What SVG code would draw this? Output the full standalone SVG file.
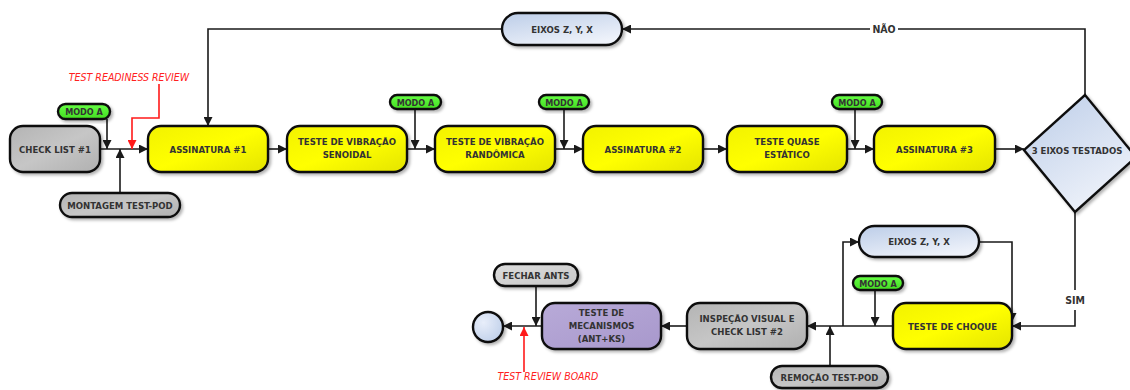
<svg xmlns="http://www.w3.org/2000/svg" width="1130" height="390" viewBox="0 0 1130 390">
<defs>
<linearGradient id="gY" x1="0" y1="0" x2="1" y2="1"><stop offset="0" stop-color="#f2f200"/><stop offset="0.5" stop-color="#ffff00"/><stop offset="1" stop-color="#e4e400"/></linearGradient>
<linearGradient id="gG" x1="0" y1="0" x2="1" y2="1"><stop offset="0" stop-color="#b4b4b4"/><stop offset="0.5" stop-color="#c6c6c6"/><stop offset="1" stop-color="#b0b0b0"/></linearGradient>
<linearGradient id="gL" x1="0" y1="0" x2="1" y2="1"><stop offset="0" stop-color="#dcdcdc"/><stop offset="1" stop-color="#c8c8c8"/></linearGradient>
<linearGradient id="gB" x1="0" y1="0" x2="0.6" y2="1"><stop offset="0" stop-color="#bccde8"/><stop offset="1" stop-color="#eef2fa"/></linearGradient>
<linearGradient id="gP" x1="0" y1="0" x2="1" y2="1"><stop offset="0" stop-color="#b8aad8"/><stop offset="1" stop-color="#a898cc"/></linearGradient>
<linearGradient id="gM" x1="0" y1="0" x2="0" y2="1"><stop offset="0" stop-color="#66ff44"/><stop offset="1" stop-color="#44dd22"/></linearGradient>
<radialGradient id="gC" cx="0.35" cy="0.35" r="0.8"><stop offset="0" stop-color="#e8eefa"/><stop offset="1" stop-color="#bccde8"/></radialGradient>
<filter id="sh" x="-10%" y="-10%" width="130%" height="140%"><feDropShadow dx="2" dy="2" stdDeviation="1.5" flood-color="#000" flood-opacity="0.3"/></filter>
<marker id="a" viewBox="0 0 10 10" refX="10" refY="5" markerWidth="9" markerHeight="9" markerUnits="userSpaceOnUse" orient="auto"><path d="M0,0 L10,5 L0,10 z" fill="#1a1a1a"/></marker>
<marker id="ar" viewBox="0 0 10 10" refX="10" refY="5" markerWidth="9" markerHeight="9" markerUnits="userSpaceOnUse" orient="auto"><path d="M0,0 L10,5 L0,10 z" fill="#ff1a1a"/></marker>
<style>
.n{stroke:#111;stroke-width:2.4;filter:url(#sh)}
.y{fill:url(#gY)}.g{fill:url(#gG)}.l{fill:url(#gL)}.b{fill:url(#gB)}.p{fill:url(#gP)}.m{fill:url(#gM)}
text{font-family:"DejaVu Sans Condensed","DejaVu Sans",sans-serif;font-weight:bold;font-size:9.5px;fill:#333;text-anchor:middle}
.s{font-size:9px}
.r{font-style:italic;font-weight:normal;fill:#ff2020;font-size:10.5px}
.c path{fill:none;stroke:#1a1a1a;stroke-width:1.6}
.c path.rd{stroke:#ff1a1a}
.lb{font-size:10.5px}
</style>
</defs>
<g class="c" id="connectors">
<path d="M100,149 H148" marker-end="url(#a)"/>
<path d="M107,119 V149" marker-end="url(#a)"/>
<path d="M120,193 V149" marker-end="url(#a)"/>
<path class="rd" d="M159,84 V118 H132 V149" marker-end="url(#ar)"/>
<path d="M1085,95 V29 H898"/>
<path d="M870,29 H622" marker-end="url(#a)"/>
<path d="M502,29 H208 V126" marker-end="url(#a)"/>
<path d="M268,149 H287" marker-end="url(#a)"/>
<path d="M407,149 H435" marker-end="url(#a)"/>
<path d="M415,109 V149" marker-end="url(#a)"/>
<path d="M555,149 H583" marker-end="url(#a)"/>
<path d="M564,109 V149" marker-end="url(#a)"/>
<path d="M703,149 H727" marker-end="url(#a)"/>
<path d="M847,149 H874" marker-end="url(#a)"/>
<path d="M855,109 V149" marker-end="url(#a)"/>
<path d="M995,149 H1024" marker-end="url(#a)"/>
<path d="M1075,212 V290"/>
<path d="M1075,310 V326 H1012" marker-end="url(#a)"/>
<path d="M979,242 H1012 V322" marker-end="url(#a)"/>
<path d="M893,326 H807" marker-end="url(#a)"/>
<path d="M843,326 V242 H859" marker-end="url(#a)"/>
<path d="M875,290 V326" marker-end="url(#a)"/>
<path d="M830,366 V326" marker-end="url(#a)"/>
<path d="M687,326 H661" marker-end="url(#a)"/>
<path d="M542,326 H503" marker-end="url(#a)"/>
<path d="M536,286 V326" marker-end="url(#a)"/>
<path class="rd" d="M524,372 V327" marker-end="url(#ar)"/>
<text x="884" y="33" class="lb">NÃO</text>
<text x="1075" y="304" class="lb">SIM</text>
</g>
<g id="checklist1"><rect class="n g" x="10" y="126" width="90" height="46" rx="13"/><text x="55" y="153">CHECK LIST #1</text></g>
<g id="modoa1"><rect class="n m" x="58" y="104" width="52" height="15" rx="7.5"/><text class="s" x="84" y="115">MODO A</text></g>
<g id="montagem"><rect class="n g" x="60" y="193" width="120" height="24" rx="12"/><text x="120" y="208.5">MONTAGEM TEST-POD</text></g>
<text class="r" x="129" y="81">TEST READINESS REVIEW</text>
<g id="eixos1"><rect class="n b" x="502" y="13" width="120" height="32" rx="16"/><text x="562" y="32.5">EIXOS Z, Y, X</text></g>
<g id="assinatura1"><rect class="n y" x="148" y="126" width="120" height="46" rx="13"/><text x="208" y="152.5">ASSINATURA #1</text></g>
<g id="senoidal"><rect class="n y" x="287" y="126" width="120" height="46" rx="13"/><text x="347" y="145">TESTE DE VIBRAÇÃO</text><text x="347" y="158">SENOIDAL</text></g>
<g id="modoa2"><rect class="n m" x="390" y="95" width="51" height="14" rx="7"/><text class="s" x="415.5" y="105.5">MODO A</text></g>
<g id="randomica"><rect class="n y" x="435" y="126" width="120" height="46" rx="13"/><text x="495" y="145">TESTE DE VIBRAÇÃO</text><text x="495" y="158">RANDÔMICA</text></g>
<g id="modoa3"><rect class="n m" x="539" y="95" width="50" height="14" rx="7"/><text class="s" x="564" y="105.5">MODO A</text></g>
<g id="assinatura2"><rect class="n y" x="583" y="126" width="120" height="46" rx="13"/><text x="643" y="152.5">ASSINATURA #2</text></g>
<g id="quase"><rect class="n y" x="727" y="126" width="120" height="46" rx="13"/><text x="787" y="145">TESTE QUASE</text><text x="787" y="158">ESTÁTICO</text></g>
<g id="modoa4"><rect class="n m" x="832" y="95" width="50" height="14" rx="7"/><text class="s" x="857" y="105.5">MODO A</text></g>
<g id="assinatura3"><rect class="n y" x="874" y="126" width="121" height="46" rx="13"/><text x="934.5" y="152.5">ASSINATURA #3</text></g>
<g id="decisao"><polygon class="n b" points="1085,95 1136,157 1075,212 1024,150"/><text x="1077" y="154">3 EIXOS TESTADOS</text></g>
<g id="eixos2"><rect class="n b" x="859" y="226" width="120" height="31" rx="15.5"/><text x="919" y="245">EIXOS Z, Y, X</text></g>
<g id="modoa5"><rect class="n m" x="853" y="276" width="50" height="14" rx="7"/><text class="s" x="878" y="286.5">MODO A</text></g>
<g id="choque"><rect class="n y" x="893" y="303" width="119" height="46" rx="13"/><text x="952.5" y="330">TESTE DE CHOQUE</text></g>
<g id="inspecao"><rect class="n g" x="687" y="303" width="120" height="46" rx="13"/><text x="747" y="322">INSPEÇÃO VISUAL E</text><text x="747" y="335">CHECK LIST #2</text></g>
<g id="remocao"><rect class="n g" x="771" y="366" width="117" height="22" rx="11"/><text x="829.5" y="380.5">REMOÇÃO TEST-POD</text></g>
<g id="mecanismos"><rect class="n p" x="542" y="303" width="119" height="46" rx="13"/><text x="601.5" y="316">TESTE DE</text><text x="601.5" y="329">MECANISMOS</text><text x="601.5" y="342">(ANT+KS)</text></g>
<g id="fechar"><rect class="n l" x="494" y="264" width="84" height="22" rx="11"/><text x="536" y="278.5">FECHAR ANTS</text></g>
<g id="fim"><circle class="n" fill="url(#gC)" cx="488" cy="327" r="15"/></g>
<text class="r" x="548" y="380">TEST REVIEW BOARD</text>
</svg>
